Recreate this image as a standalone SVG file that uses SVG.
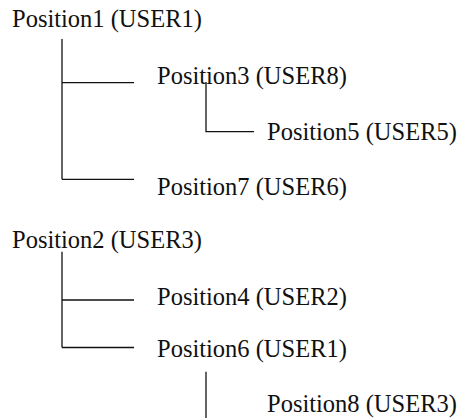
<svg xmlns="http://www.w3.org/2000/svg" width="461" height="418" viewBox="0 0 461 418">
<style>
text{font-family:"Liberation Serif","Times New Roman",serif;font-size:24.5px;fill:#111}
.c path{fill:none;stroke:#111;stroke-width:1.3}
</style>
<rect width="461" height="418" fill="#fff"/>
<g class="c" id="connectors">
<path d="M62,39 V179.3 M62,82.7 H134 M62,179.3 H134"/>
<path d="M206,82 V131.7 H254"/>
<path d="M62,251.7 V347.5 M62,300 H134 M62,347.5 H134"/>
<path d="M206,371.7 V420"/>
</g>
<g id="n1"><text x="12" y="27">Position1 (USER1)</text></g>
<g id="n3"><text x="157" y="83.5">Position3 (USER8)</text></g>
<g id="n5"><text x="267" y="140">Position5 (USER5)</text></g>
<g id="n7"><text x="157" y="195">Position7 (USER6)</text></g>
<g id="n2"><text x="12" y="248">Position2 (USER3)</text></g>
<g id="n4"><text x="157" y="305">Position4 (USER2)</text></g>
<g id="n6"><text x="157" y="356.5">Position6 (USER1)</text></g>
<g id="n8"><text x="267" y="411.5">Position8 (USER3)</text></g>
</svg>
